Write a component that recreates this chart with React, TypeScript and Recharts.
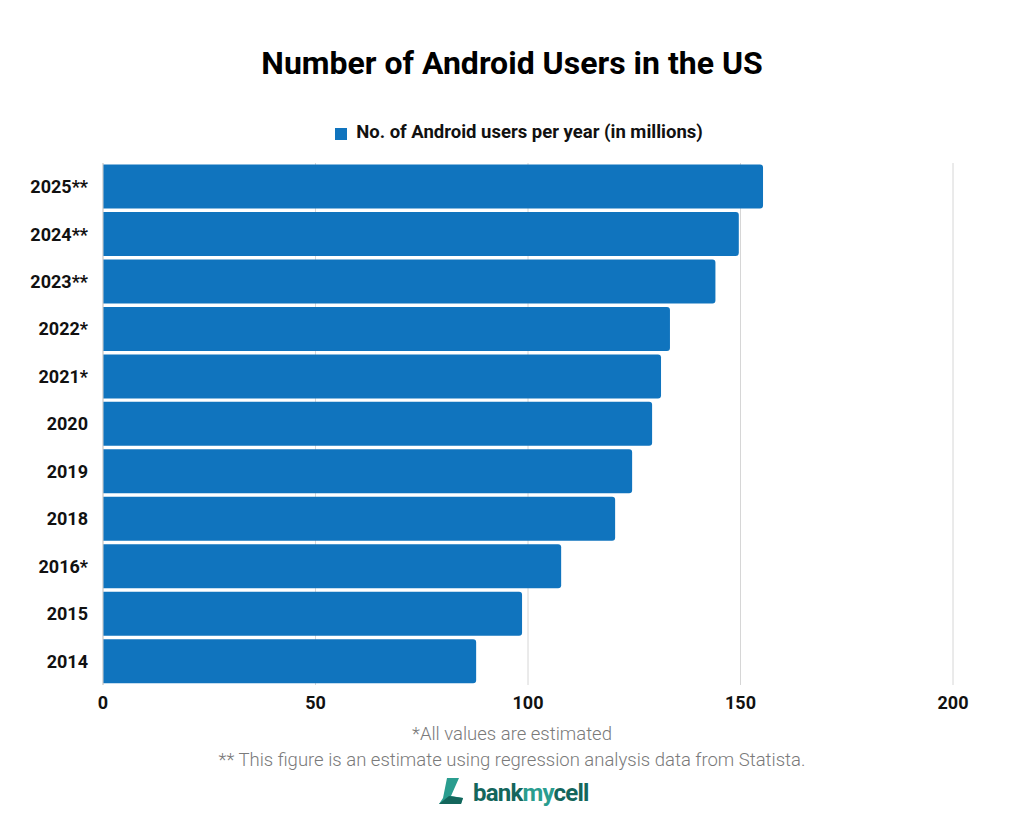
import { Bar, BarChart, CartesianGrid, Legend, XAxis, YAxis } from 'recharts';

const YEARS = ['2025**', '2024**', '2023**', '2022*', '2021*', '2020', '2019', '2018', '2016*', '2015', '2014'];
const USERS = [155.3, 149.6, 144.1, 133.4, 131.3, 129.2, 124.5, 120.5, 107.8, 98.6, 87.8];
const X_TICKS = [0, 50, 100, 150, 200];

const SERIES_NAME = 'No. of Android users per year (in millions)';
const BLUE = '#1074be';

const data = YEARS.map((year, i) => ({ year, users: USERS[i] }));

export default function App() {
  return (
    <div
      style={{
        position: 'absolute',
        left: 0,
        top: 0,
        width: 1024,
        height: 820,
        background: '#fff',
        fontFamily: 'Roboto, sans-serif',
      }}
    >
      <div
        style={{
          position: 'absolute',
          top: 44,
          width: 1024,
          textAlign: 'center',
          fontSize: 32,
          fontWeight: 700,
          color: '#000',
        }}
      >
        Number of Android Users in the US
      </div>

      <BarChart
        width={1024}
        height={820}
        data={data}
        layout="vertical"
        barCategoryGap={1.6}
        margin={{ top: 141, right: 71, bottom: 105, left: 10 }}
      >
        <CartesianGrid horizontal={false} stroke="#d6d6d6" />
        <XAxis
          type="number"
          domain={[0, 200]}
          ticks={X_TICKS}
          axisLine={false}
          tickLine={false}
          tickMargin={5}
          tick={{ fontSize: 18, fontWeight: 700, fill: '#111' }}
        />
        <YAxis
          type="category"
          dataKey="year"
          width={93}
          axisLine={{ stroke: '#cfcfcf' }}
          tickLine={false}
          tickMargin={9}
          tick={{ fontSize: 18, fontWeight: 700, fill: '#111' }}
        />
        <Legend
          verticalAlign="top"
          align="center"
          iconType="square"
          iconSize={12}
          wrapperStyle={{ top: 121, left: 12, width: 1024 }}
          formatter={(v) => (
            <span style={{ color: '#111', fontWeight: 700, fontSize: 18.5, marginLeft: 5 }}>{v}</span>
          )}
        />
        <Bar
          dataKey="users"
          name={SERIES_NAME}
          fill={BLUE}
          radius={[0, 3, 3, 0]}
          isAnimationActive={false}
        />
      </BarChart>

      <div
        style={{
          position: 'absolute',
          top: 721,
          width: 1024,
          textAlign: 'center',
          fontSize: 18.5,
          lineHeight: '26px',
          color: '#7a7a7a',
          fontWeight: 300,
        }}
      >
        <div>*All values are estimated</div>
        <div>** This figure is an estimate using regression analysis data from Statista.</div>
      </div>

      <div
        style={{
          position: 'absolute',
          top: 776,
          left: 437,
          display: 'flex',
          alignItems: 'flex-end',
          gap: 2,
        }}
      >
        <svg width={34} height={30} viewBox="0 0 34 30">
          <path d="M10 2 L22 2 L14 20 L26 22 L24 28 L2 28 L6 22 Z" fill="#2a9d8f" />
          <path d="M2 28 L12 20 L26 22 L24 28 Z" fill="#14665c" />
        </svg>
        <span style={{ fontSize: 24, fontWeight: 700, color: '#14665c', letterSpacing: -0.8, lineHeight: '26px' }}>
          bank<span style={{ color: '#2a9d8f' }}>my</span>cell
        </span>
      </div>
    </div>
  );
}
